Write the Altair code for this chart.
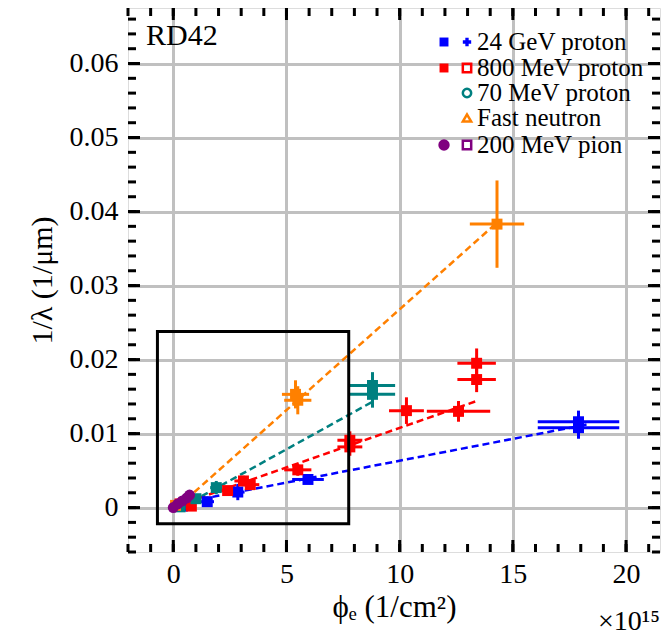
import altair as alt
import pandas as pd

FONT = "'Liberation Serif', 'DejaVu Serif', 'Times New Roman', serif"

series = ["24 GeV proton", "800 MeV proton", "70 MeV proton", "Fast neutron", "200 MeV pion"]
colors = ["#0000ff", "#ff0000", "#008080", "#ff8000", "#800080"]

# 24 GeV proton
p24_x = [0.4, 1.5, 2.85, 5.95, 17.9, 17.9]
p24_y = [0.0002, 0.0008, 0.0021, 0.0038, 0.0108, 0.0116]
p24_xe = [0.1, 0.3, 0.3, 0.7, 1.8, 1.8]
p24_ye = [0.0003, 0.0004, 0.0011, 0.0005, 0.0015, 0.0015]

# 800 MeV proton
p800_x = [0.3, 0.8, 2.4, 3.1, 3.4, 5.5, 7.8, 7.8, 10.3, 12.6, 13.4, 13.4]
p800_y = [0.0005, 0.0002, 0.0023, 0.0036, 0.0031, 0.0051, 0.0082, 0.0091, 0.0131, 0.0130, 0.0173, 0.0195]
p800_xe = [0.1, 0.15, 0.4, 0.4, 0.4, 0.6, 0.55, 0.55, 0.77, 1.4, 0.85, 0.85]
p800_ye = [0.0003, 0.0003, 0.0005, 0.0007, 0.0007, 0.0008, 0.0012, 0.0012, 0.0018, 0.0014, 0.0017, 0.0020]

# 70 MeV proton
p70_x = [0.3, 1.0, 1.9, 8.8, 8.8]
p70_y = [0.0001, 0.0012, 0.0027, 0.0153, 0.0165]
p70_xe = [0.1, 0.2, 0.27, 1.0, 1.0]
p70_ye = [0.0005, 0.0004, 0.0009, 0.0018, 0.0018]

# Fast neutron
n_x = [0.1, 5.4, 5.5, 14.3]
n_y = [0.0003, 0.0153, 0.0145, 0.0383]
n_xe = [0.1, 0.6, 0.6, 1.2]
n_ye = [0.0005, 0.0019, 0.0019, 0.0059]

# 200 MeV pion
pi_x = [0.0, 0.2, 0.4, 0.6, 0.72]
pi_y = [0.0, 0.0005, 0.0009, 0.0013, 0.0017]
pi_xe = [0.15, 0.15, 0.15, 0.15, 0.15]
pi_ye = [0.0004, 0.0004, 0.0004, 0.0004, 0.0004]

# fit lines (endpoints)
line_series = ["24 GeV proton", "800 MeV proton", "70 MeV proton", "Fast neutron"]
line_x = [[0.3, 18.4], [0.2, 13.4], [0.4, 8.8], [0.2, 14.3]]
line_y = [[0.0006, 0.0113], [0.0003, 0.0144], [0.0001, 0.0143], [0.0001, 0.0385]]

# zoom box
box_x = [-0.7, 7.75]
box_y = [-0.0022, 0.0238]

x_major = [0, 5, 10, 15, 20]
y_major = [0, 0.01, 0.02, 0.03, 0.04, 0.05, 0.06]
x_minor = list(range(-2, 22))
y_minor = [round(-0.006 + 0.002 * i, 4) for i in range(37)]

rows = []
for name, xs, ys, xes, yes in [
    ("24 GeV proton", p24_x, p24_y, p24_xe, p24_ye),
    ("800 MeV proton", p800_x, p800_y, p800_xe, p800_ye),
    ("70 MeV proton", p70_x, p70_y, p70_xe, p70_ye),
    ("Fast neutron", n_x, n_y, n_xe, n_ye),
    ("200 MeV pion", pi_x, pi_y, pi_xe, pi_ye),
]:
    for x, y, xe, ye in zip(xs, ys, xes, yes):
        rows.append({"series": name, "x": x, "y": y,
                     "xlo": x - xe, "xhi": x + xe, "ylo": y - ye, "yhi": y + ye})
pts = pd.DataFrame(rows)

lines = pd.DataFrame([
    {"series": s, "x": xv, "y": yv}
    for s, xs, ys in zip(line_series, line_x, line_y) for xv, yv in zip(xs, ys)
])

W, H = 532, 544
xs_ = alt.Scale(domain=[-2, 21.5], nice=False, zero=False)
ys_ = alt.Scale(domain=[-0.006, 0.0675], nice=False, zero=False)
cs = alt.Scale(domain=series, range=colors)

xaxis = alt.Axis(values=x_major, grid=True, gridColor="#c0c0c0", gridWidth=3,
                 ticks=False, domain=False, labelFont=FONT, labelFontSize=28,
                 labelColor="black", labelPadding=8, title="ϕₑ (1/cm²)",
                 titleFont=FONT, titleFontSize=31, titleFontWeight="normal",
                 titleColor="black", titlePadding=4)
yaxis = alt.Axis(values=y_major, grid=True, gridColor="#c0c0c0", gridWidth=3,
                 ticks=False, domain=False, labelFont=FONT, labelFontSize=28,
                 labelColor="black", labelPadding=10,
                 labelExpr="datum.value == 0 ? '0' : format(datum.value, '.2f')",
                 title="1/λ (1/μm)", titleFont=FONT, titleFontSize=30,
                 titleFontWeight="normal", titleColor="black", titlePadding=12)

X = lambda f: alt.X(f, type="quantitative", scale=xs_, axis=xaxis)
Y = lambda f: alt.Y(f, type="quantitative", scale=ys_, axis=yaxis)
C = alt.Color("series:N", scale=cs, legend=None)

fit = alt.Chart(lines).mark_line(strokeWidth=2.5, strokeDash=[7, 4]).encode(
    x=X("x"), y=Y("y"), color=C, detail="series:N")

ebx = alt.Chart(pts).mark_rule(strokeWidth=3).encode(
    x=X("xlo"), x2="xhi", y=Y("y"), color=C)
eby = alt.Chart(pts).mark_rule(strokeWidth=3).encode(
    x=X("x"), y=Y("ylo"), y2="yhi", color=C)
marks = alt.Chart(pts).mark_point(filled=True, opacity=1).encode(
    x=X("x"), y=Y("y"), color=C,
    shape=alt.Shape("series:N", scale=alt.Scale(domain=series,
                    range=["square", "square", "square", "square", "circle"]), legend=None),
    size=alt.Size("series:N", scale=alt.Scale(domain=series, range=[120, 120, 120, 120, 190]), legend=None))

box = alt.Chart(pd.DataFrame({"x": [box_x[0]], "x2": [box_x[1]], "y": [box_y[0]], "y2": [box_y[1]]})).mark_rect(
    fill=None, stroke="black", strokeWidth=3).encode(x=X("x"), x2="x2", y=Y("y"), y2="y2")

def tick_layers(vals, length):
    d = pd.DataFrame({"v": vals})
    return [
        alt.Chart(d).mark_rule(color="black", strokeWidth=3).encode(x=X("v"), y=alt.value(H), y2=alt.value(H - length)),
        alt.Chart(d).mark_rule(color="black", strokeWidth=3).encode(x=X("v"), y=alt.value(0), y2=alt.value(length)),
    ]

def ytick_layers(vals, length):
    d = pd.DataFrame({"v": vals})
    return [
        alt.Chart(d).mark_rule(color="black", strokeWidth=3).encode(y=Y("v"), x=alt.value(0), x2=alt.value(length)),
        alt.Chart(d).mark_rule(color="black", strokeWidth=3).encode(y=Y("v"), x=alt.value(W), x2=alt.value(W - length)),
    ]

ticks = tick_layers(x_minor, 8) + tick_layers(x_major, 12) + ytick_layers(y_minor, 8) + ytick_layers(y_major, 12)

one = alt.Data(values=[{}])
legend_layers = []
row_y = [34, 60, 85, 110, 137]
sym1 = [("square", True), ("square", True), None, None, ("circle", True)]
sym2 = [("cross", True), ("square", False), ("circle", False), ("triangle-up", False), ("square", False)]
sym1_size = [80, 80, 0, 0, 130]
for i, (name, col) in enumerate(zip(series, colors)):
    legend_layers.append(alt.Chart(one).mark_text(
        text=name, font=FONT, fontSize=25, align="left", baseline="middle", color="black"
    ).encode(x=alt.value(349), y=alt.value(row_y[i])))
    if sym1[i]:
        legend_layers.append(alt.Chart(one).mark_point(
            shape=sym1[i][0], filled=sym1[i][1], color=col, size=sym1_size[i], opacity=1, strokeWidth=2
        ).encode(x=alt.value(316), y=alt.value(row_y[i])))
    legend_layers.append(alt.Chart(one).mark_point(
        shape=sym2[i][0], filled=sym2[i][1], color=col, size=70, opacity=1, strokeWidth=2.5
    ).encode(x=alt.value(339), y=alt.value(row_y[i])))

rd42 = alt.Chart(one).mark_text(text="RD42", font=FONT, fontSize=30, align="left",
                                baseline="middle", color="black").encode(
    x=alt.value(18), y=alt.value(28))
exp = alt.Chart(one).mark_text(text="×10¹⁵", font=FONT, fontSize=28, align="right",
                               baseline="middle", color="black").encode(
    x=alt.value(W), y=alt.value(H + 70))

chart = alt.layer(fit, ebx, eby, marks, box, *ticks, *legend_layers, rd42, exp).properties(
    width=W, height=H,
    autosize=alt.AutoSizeParams(type="none"),
    padding={"left": 128, "top": 8, "right": 2, "bottom": 85},
).configure_view(stroke="black", strokeWidth=4).configure(background="white")

chart.save("out.html", embed_options={"renderer": "svg", "actions": False})
